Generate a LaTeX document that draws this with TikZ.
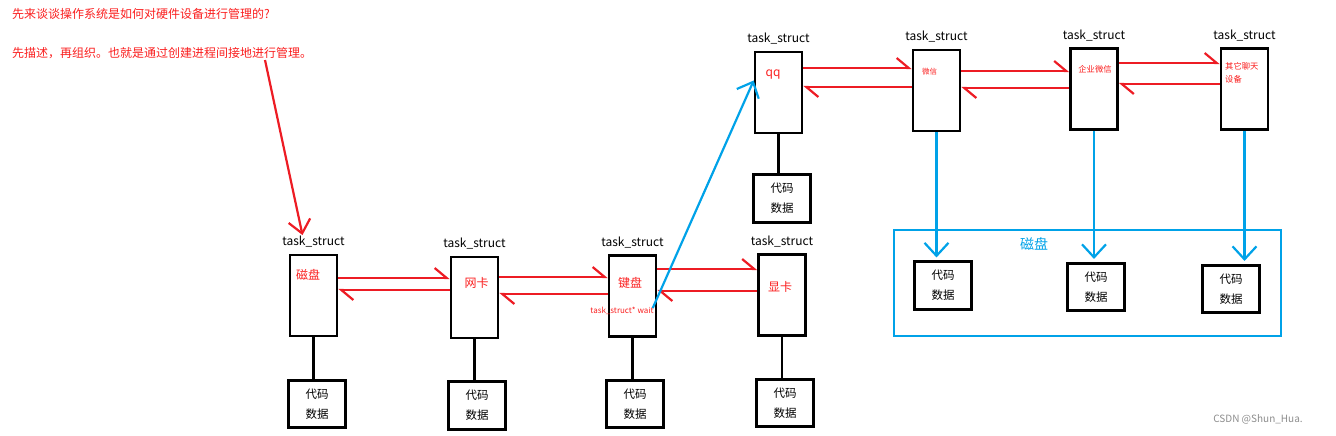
\documentclass[tikz,border=0pt]{standalone}
\usepackage{fontspec}
\setmainfont{Noto Sans CJK SC}
\usetikzlibrary{positioning,arrows.meta}

\definecolor{paintred}{RGB}{237,28,36}
\definecolor{paintblue}{RGB}{0,162,232}
\definecolor{notered}{RGB}{250,30,30}

\tikzset{
  taskbox/.style={draw, line width=2.6pt, minimum width=47pt, minimum height=81pt, inner sep=0pt},
  codebox/.style={draw, line width=2.6pt, minimum width=57.5pt, minimum height=47.5pt, inner sep=0pt,
    align=center, font=\fontsize{11.5}{20}\selectfont},
  tasklabel/.style={font=\fontsize{12}{14}\selectfont, inner sep=1pt},
  redtext/.style={text=notered, font=\fontsize{12}{14}\selectfont, inner sep=0pt},
  smalltext/.style={text=notered, font=\fontsize{8.3}{13}\selectfont, inner sep=0pt},
  stem/.style={line width=2.4pt},
  nextlink/.style={draw=paintred, line width=2.2pt, -{Straight Barb[harpoon,length=12pt,width=20pt]}},
  bluelink/.style={draw=paintblue, line width=2.2pt, -{Straight Barb[length=13pt,width=24pt]}},
  redarrow/.style={draw=paintred, line width=2.2pt, -{Straight Barb[length=13pt,width=22pt]}},
}

\begin{document}
\begin{tikzpicture}[x=1pt, y=-1pt]
\useasboundingbox (0,0) rectangle (1336,436);

% question at the top left
\node[redtext, anchor=west] (q1) at (12,14) {先来谈谈操作系统是如何对硬件设备进行管理的?};
\node[redtext, anchor=west] (q2) at (12,53) {先描述，再组织。也就是通过创建进程间接地进行管理。};

% lower row of devices
\node[taskbox] (d1) at (313.5,295.5) {};
\node[taskbox] (d2) at (474.5,297.5) {};
\node[taskbox] (d3) at (632.5,296) {};
\node[taskbox] (d4) at (782,295) {};

\node[codebox] (c1) at (317,404) {代码\\数据};
\node[codebox] (c2) at (477,405.5) {代码\\数据};
\node[codebox] (c3) at (635,404) {代码\\数据};
\node[codebox] (c4) at (785,403) {代码\\数据};

% upper row of chat programs
\node[taskbox] (t1) at (778.5,92.5) {};
\node[taskbox] (t2) at (936.5,90.5) {};
\node[taskbox] (t3) at (1094,89) {};
\node[taskbox] (t4) at (1244.5,89) {};

\node[codebox] (c5) at (782,198.5) {代码\\数据};

% the disk
\node[draw=paintblue, line width=2.4pt, minimum width=387pt, minimum height=106pt] (disk) at (1087.5,283) {};
\node[text=paintblue, font=\fontsize{14}{16}\selectfont, inner sep=0pt] (diskl) at (1034,244) {磁盘};
\node[codebox] (c6) at (943,285.5) {代码\\数据};
\node[codebox] (c7) at (1096,287) {代码\\数据};
\node[codebox] (c8) at (1231,289) {代码\\数据};

% labels
\foreach \n in {d1,d2,d3,d4,t1,t2,t3,t4}
  \node[tasklabel, above=5pt of \n] (\n l) {task\_struct};

\node[redtext] (n1) at (308,275) {磁盘};
\node[redtext] (n2) at (476.5,283) {网卡};
\node[redtext] (n3) at (630,283) {键盘};
\node[redtext] (n4) at (780,287) {显卡};
\node[redtext] (m1) at (773,75) {qq};
\node[smalltext, font=\fontsize{7.5}{9}\selectfont] (m2) at (929.5,72) {微信};
\node[smalltext] (m3) at (1095,69) {企业微信};
\node[smalltext, align=left, anchor=north west] (m4) at (1225,62) {其它聊天\\设备};
\node[text=notered, font=\fontsize{8}{9}\selectfont, inner sep=0pt] (wait) at (622,311) {task\_struct* wait};

% stems
\draw[stem] (d1.south) -- (d1.south |- c1.north);
\draw[stem] (d2.south) -- (d2.south |- c2.north);
\draw[stem] (d3.south) -- (d3.south |- c3.north);
\draw[stem] (d4.south) -- (d4.south |- c4.north);
\draw[stem] (t1.south) -- (t1.south |- c5.north);

% links, lower row
\draw[nextlink] (d1.east |- 0,278) -- (d2.west |- 0,278);
\draw[nextlink] (d2.west |- 0,290) -- (d1.east |- 0,290);
\draw[nextlink] (d2.east |- 0,277) -- (d3.west |- 0,277);
\draw[nextlink] (d3.west |- 0,294) -- (d2.east |- 0,294);
\draw[nextlink] (d3.east |- 0,269) -- (d4.west |- 0,269);
\draw[nextlink] (d4.west |- 0,291) -- (d3.east |- 0,291);

% links, upper row
\draw[nextlink] (t1.east |- 0,68) -- (t2.west |- 0,68);
\draw[nextlink] (t2.west |- 0,87) -- (t1.east |- 0,87);
\draw[nextlink] (t2.east |- 0,71) -- (t3.west |- 0,71);
\draw[nextlink] (t3.west |- 0,88) -- (t2.east |- 0,88);
\draw[nextlink] (t3.east |- 0,63) -- (t4.west |- 0,63);
\draw[nextlink] (t4.west |- 0,84) -- (t3.east |- 0,84);

% wait queue and disk data
\draw[bluelink] ([xshift=-1pt,yshift=3pt]wait.east) -- ([yshift=12pt]t1.west);
\draw[bluelink, shorten >=3pt] (t2.south) -- (t2.south |- c6.north);
\draw[bluelink, shorten >=3pt] (t3.south) -- (t3.south |- c7.north);
\draw[bluelink, shorten >=3pt] (t4.south) -- (t4.south |- c8.north);

% pointer from the question
\coordinate (q) at (265,60);
\draw[redarrow] (q) -- ([xshift=-11pt]d1l.north);

\node[text=black!45, font=\fontsize{10}{12}\selectfont, inner sep=0pt] (csdn) at (1258,419) {CSDN @Shun\_Hua.};

\end{tikzpicture}
\end{document}
